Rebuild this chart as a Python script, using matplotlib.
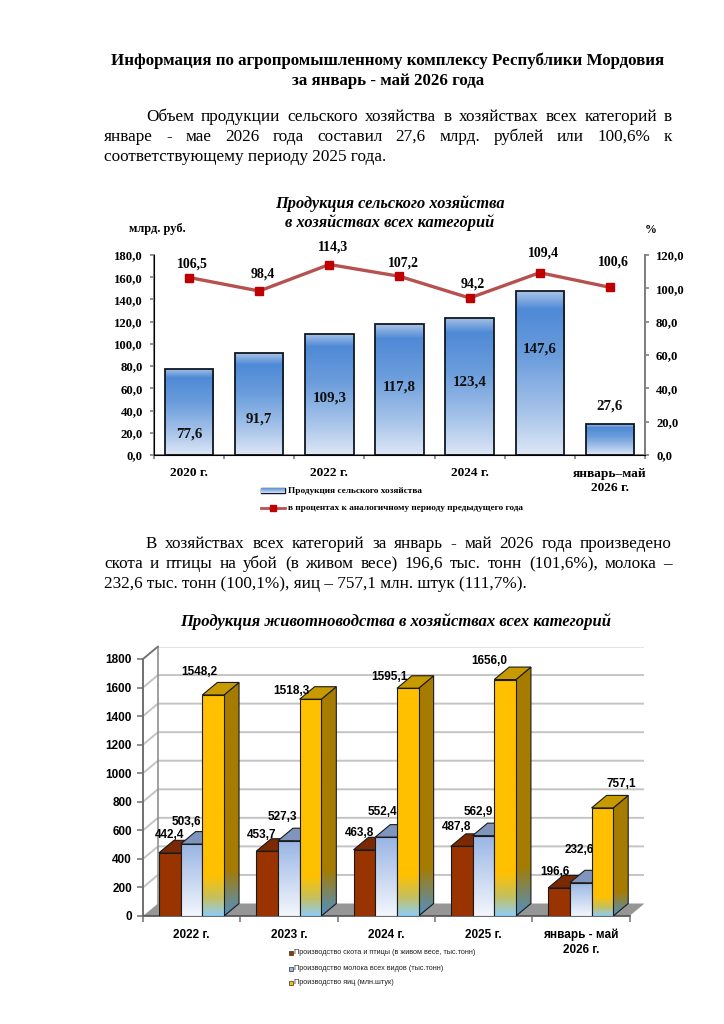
#!/usr/bin/env python3
# -*- coding: utf-8 -*-
import numpy as np
import matplotlib
matplotlib.use("Agg")
import matplotlib.pyplot as plt
from matplotlib.colors import LinearSegmentedColormap
from matplotlib.patches import Polygon, Rectangle

W, H = 724, 1024
SERIF = ["Liberation Serif", "DejaVu Serif"]
SANS = ["Liberation Sans", "DejaVu Sans"]

# first chart
years1 = ["2020 г.", "", "2022 г.", "", "2024 г.", "", "январь–май\n2026 г."]
product = [77.6, 91.7, 109.3, 117.8, 123.4, 147.6, 27.6]
percent = [106.5, 98.4, 114.3, 107.2, 94.2, 109.4, 100.6]
ticks1_left = [0, 20, 40, 60, 80, 100, 120, 140, 160, 180]
ticks1_right = [0, 20, 40, 60, 80, 100, 120]
# where the labels sit
product_label_y = [19, 32, 51, 61, 66, 95, 44]
percent_label_up = [13.5, 17, 17.5, 13, 14, 20, 25]

# second chart
years2 = ["2022 г.", "2023 г.", "2024 г.", "2025 г.", "январь - май\n2026 г."]
meat = [442.4, 453.7, 463.8, 487.8, 196.6]
milk = [503.6, 527.3, 552.4, 562.9, 232.6]
eggs = [1548.2, 1518.3, 1595.1, 1656.0, 757.1]
ticks2 = [0, 200, 400, 600, 800, 1000, 1200, 1400, 1600, 1800]
# label shift from the front top centre of the bar, px
meat_shift = [(0, 18), (-5, 16), (-5, 17), (-5, 19), (-4, 16)]
milk_shift = [(-5, 22), (-6, 24), (-4, 25), (-5, 24), (-1, 33)]
eggs_shift = [(-14, 23), (-19, 8), (-18, 11), (-16, 19), (19, 24)]

legend2 = ["Производство скота и птицы (в живом весе, тыс.тонн)",
           "Производство молока всех видов (тыс.тонн)",
           "Производство яиц (млн.штук)"]


def fmt(v):
    return ("%.1f" % v).replace(".", ",")


def px_axes(l, t, r, b):
    return fig.add_axes([l / W, 1 - b / H, (r - l) / W, (b - t) / H])


def gradient(ax, clip, extent, stops, z):
    cmap = LinearSegmentedColormap.from_list("g", stops)
    im = ax.imshow(np.linspace(0, 1, 256).reshape(-1, 1), cmap=cmap, extent=extent,
                   aspect="auto", origin="upper", zorder=z, vmin=0, vmax=1)
    im.set_clip_path(clip)


fig = plt.figure(figsize=(W / 100, H / 100), dpi=100, facecolor="white")

# page text goes on an overlay in pixels
page = fig.add_axes([0, 0, 1, 1], zorder=10)
page.set_xlim(0, W)
page.set_ylim(H, 0)
page.axis("off")
page.patch.set_alpha(0)


def justify(line, x0, x1, y, size=12.3):
    words = line.split(" ")
    items = [page.text(x0, y, w, family=SERIF, fontsize=size, va="center") for w in words]
    r = fig.canvas.get_renderer()
    widths = [t.get_window_extent(r).width for t in items]
    gap = (x1 - x0 - sum(widths)) / (len(words) - 1)
    x = x0
    for t, w in zip(items, widths):
        t.set_x(x)
        x += w + gap


page.text(388, 61, "Информация по агропромышленному комплексу Республики Мордовия",
          family=SERIF, fontsize=12.2, fontweight="bold", ha="center", va="center")
page.text(388, 81, "за январь - май 2026 года", family=SERIF, fontsize=12.2,
          fontweight="bold", ha="center", va="center")
justify("Объем продукции сельского хозяйства в хозяйствах всех категорий в", 146, 672, 117)
justify("январе - мае 2026 года составил 27,6 млрд. рублей или 100,6% к", 104, 672, 137)
page.text(104, 157, "соответствующему периоду 2025 года.", family=SERIF, fontsize=12.3, va="center")
justify("В хозяйствах всех категорий за январь - май 2026 года произведено", 146, 672, 544)
justify("скота и птицы на убой (в живом весе) 196,6 тыс. тонн (101,6%), молока –", 104, 672, 564)
page.text(104, 584, "232,6 тыс. тонн (100,1%), яиц – 757,1 млн. штук (111,7%).",
          family=SERIF, fontsize=12.3, va="center")

for txt, y in [("Продукция сельского хозяйства", 204), ("в хозяйствах всех категорий", 223)]:
    page.text(390, y, txt, family=SERIF, fontsize=11.8, fontweight="bold", style="italic",
              ha="center", va="center")
page.text(396, 622, "Продукция животноводства в хозяйствах всех категорий", family=SERIF,
          fontsize=12, fontweight="bold", style="italic", ha="center", va="center")
page.text(129, 229, "млрд. руб.", family=SERIF, fontsize=8.9, fontweight="bold", va="center")
page.text(645, 230, "%", family=SERIF, fontsize=8.5, fontweight="bold", va="center")

# ---- first chart ----
ax = px_axes(154, 255, 645, 455)
x = np.arange(len(product))
bars = ax.bar(x, product, width=0.69, facecolor="none", edgecolor="#101820", linewidth=1.3, zorder=3)
blue_stops = [(0, "#a9c3e8"), (0.11, "#4f8ad6"), (0.4, "#6b9ddc"), (0.75, "#a9c5ea"), (1, "#dde7f6")]
for b in bars:
    gradient(ax, b, [b.get_x(), b.get_x() + b.get_width(), 0, b.get_height()], blue_stops, 2)
ax.set_xlim(-0.5, len(product) - 0.5)
ax.set_ylim(0, 180)
ax.set_xticks(np.arange(len(product) + 1) - 0.5)
ax.set_xticklabels([])
ax.set_xticks(x, minor=True)
ax.set_xticklabels(years1, minor=True, family=SERIF, fontsize=9.6, fontweight="bold", linespacing=1.25)
ax.tick_params(axis="x", which="minor", length=0, pad=9)
ax.tick_params(axis="x", which="major", length=3, width=1.2, color="#808080")
ax.set_yticks(ticks1_left)
ax.set_yticklabels([fmt(v) for v in ticks1_left], family=SERIF, fontsize=9.2, fontweight="bold")
ax.tick_params(axis="y", length=3, width=1.2, color="#808080", pad=5)
ax.spines["top"].set_visible(False)
for s in ["left", "right", "bottom"]:
    ax.spines[s].set_color("#808080")
    ax.spines[s].set_linewidth(1.4)
for xi, v, ly in zip(x, product, product_label_y):
    ax.text(xi, ly, fmt(v), family=SERIF, fontsize=10.8, fontweight="bold", ha="center",
            va="center", zorder=5, color="#101010")

ax_r = ax.twinx()
ax_r.plot(x, percent, color="#b5524f", linewidth=2.4, marker="s", markersize=6.3,
          markerfacecolor="#c00000", markeredgecolor="#c00000", zorder=6)
ax_r.set_ylim(0, 120)
ax_r.set_yticks(ticks1_right)
ax_r.set_yticklabels([fmt(v) for v in ticks1_right], family=SERIF, fontsize=9.2, fontweight="bold")
ax_r.tick_params(axis="y", length=3, width=1.2, color="#808080", pad=5)
ax_r.spines["top"].set_visible(False)
ax_r.spines["right"].set_color("#808080")
ax_r.spines["right"].set_linewidth(1.4)
for xi, v, up in zip(x, percent, percent_label_up):
    ax_r.annotate(fmt(v), (xi, v), xytext=(3.5 * 0.72, up * 0.72), textcoords="offset points",
                  family=SERIF, fontsize=10, fontweight="bold", ha="center", va="center")

# legend of the first chart
swatch = Rectangle((261, 488), 24, 5, facecolor="#7fa9e0", edgecolor="#101820", linewidth=1)
page.add_patch(swatch)
gradient(page, swatch, [261, 285, 493, 488], [(0, "#5a90d6"), (1, "#d5e2f5")], 1)
page.set_xlim(0, W)
page.set_ylim(H, 0)
page.plot([261, 285], [508, 508], color="#b5524f", linewidth=2)
page.plot([273], [508], color="#c00000", marker="s", markersize=4)
page.text(288, 491, "Продукция сельского хозяйства", family=SERIF, fontsize=6.65,
          fontweight="bold", va="center")
page.text(288, 508, "в процентах к аналогичному периоду предыдущего года", family=SERIF,
          fontsize=6.65, fontweight="bold", va="center")

# ---- second chart ----
dx, dy = 0.154, 87.5
n = len(years2)
ax3 = px_axes(143, 646.5, 143 + 97.3 * (n + dx), 916)
ax3.patch.set_alpha(0)
for s in ax3.spines.values():
    s.set_visible(False)

for v in ticks2[1:]:
    ax3.plot([0, dx, n + dx], [v, v + dy, v + dy], color="#c4c4c4", linewidth=1.4, zorder=0.5,
             solid_joinstyle="miter")
ax3.plot([dx, dx], [dy, 1800 + dy], color="#909090", linewidth=1.2, zorder=0.6)
ax3.plot([0, 0], [0, 1800], color="#707070", linewidth=1.4, zorder=0.6, clip_on=False)
ax3.plot([0, dx], [1800, 1800 + dy], color="#707070", linewidth=1.2, zorder=0.6, clip_on=False)
ax3.add_patch(Polygon([(0, 0), (n, 0), (n + dx, dy), (dx, dy)], facecolor="#969696",
                      edgecolor="none", zorder=1))
ax3.plot([0, n], [0, 0], color="#505050", linewidth=1.2, zorder=1.1, clip_on=False)

bw = 0.223
start = 0.164
EDGE = "#1a1a1a"
series = [
    (meat, "#993300", "#7a2900", "#7a2900"),
    (milk, [(0, "#99b5e4"), (0.85, "#e6edf9"), (1, "#f4f6fc")], "#7f95bd", "#7f95bd"),
    (eggs, [(0, "#ffc000"), (0.82, "#ffc000"), (0.92, "#c4c060"), (1, "#8fcdf5")], "#c79a00",
     [(0, "#a67c00"), (0.8, "#a67c00"), (1, "#4f90c8")]),
]


def face(pts, fill, z):
    edge = Polygon(pts, facecolor=fill if isinstance(fill, str) else "none", edgecolor=EDGE,
                   linewidth=0.8, zorder=z + 0.05)
    ax3.add_patch(edge)
    if not isinstance(fill, str):
        xs = [p[0] for p in pts]
        ys = [p[1] for p in pts]
        gradient(ax3, edge, [min(xs), max(xs), min(ys), max(ys)], fill, z)


z = 2
for i in range(n):
    for j, (vals, front, top, side) in enumerate(series):
        x0 = i + start + j * bw
        x1 = x0 + bw
        v = vals[i]
        face([(x1, 0), (x1 + dx, dy), (x1 + dx, v + dy), (x1, v)], side, z)
        face([(x0, v), (x1, v), (x1 + dx, v + dy), (x0 + dx, v + dy)], top, z + 0.2)
        face([(x0, 0), (x1, 0), (x1, v), (x0, v)], front, z + 0.4)
        z += 1

for j, (vals, shifts) in enumerate([(meat, meat_shift), (milk, milk_shift), (eggs, eggs_shift)]):
    for i, (v, sh) in enumerate(zip(vals, shifts)):
        ax3.annotate(fmt(v), (i + start + (j + 0.5) * bw, v), xytext=(sh[0] * 0.72, sh[1] * 0.72),
                     textcoords="offset points", family=SANS, fontsize=8.5, fontweight="bold",
                     ha="center", va="center", zorder=50, annotation_clip=False)

ax3.set_xlim(0, n + dx)
ax3.set_ylim(0, 1800 + dy)
ax3.set_yticks(ticks2)
ax3.set_yticklabels([str(v) for v in ticks2], family=SANS, fontsize=8.5, fontweight="bold")
ax3.tick_params(axis="y", length=4, width=1.1, color="#707070", pad=4)
ax3.set_xticks(np.arange(n + 1))
ax3.set_xticklabels([])
ax3.set_xticks(np.arange(n) + 0.5, minor=True)
ax3.set_xticklabels(years2, minor=True, family=SANS, fontsize=8.5, fontweight="bold", linespacing=1.3)
ax3.tick_params(axis="x", which="minor", length=0, pad=9)
ax3.tick_params(axis="x", which="major", length=4, width=1.1, color="#707070")

# legend of the second chart
legend_colors = ["#993300", "#9bb7e6", "#ffc000"]
for txt, col, y in zip(legend2, legend_colors, [953, 968.5, 983]):
    page.add_patch(Rectangle((288.5, y - 2), 4, 4, facecolor=col, edgecolor="#303030", linewidth=0.5))
    page.text(294, y, txt, family=SANS, fontsize=5.25, va="center", color="#202020")

fig.savefig("out.png", dpi=100)
